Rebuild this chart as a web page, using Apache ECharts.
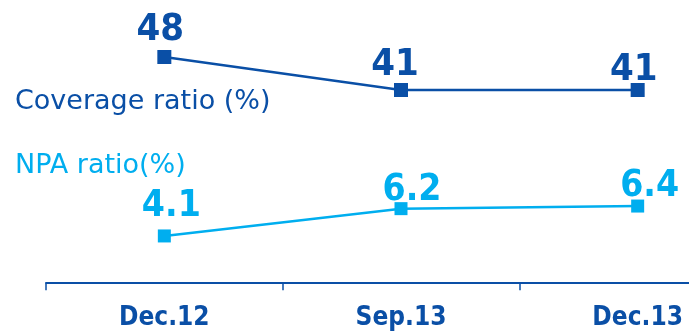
<!DOCTYPE html>
<html>
<head>
<meta charset="utf-8">
<script src="https://cdn.jsdelivr.net/npm/echarts@6/dist/echarts.min.js"></script>
<style>
html,body{margin:0;padding:0;background:#fff;}
#c{width:689px;height:333px;}
</style>
</head>
<body>
<div id="c"></div>
<script>
var categories = ['Dec.12', 'Sep.13', 'Dec.13'];
var coverageRatio = [48, 41, 41];
var npaRatio = [4.1, 6.2, 6.4];
var seriesNames = ['Coverage ratio (%)', 'NPA ratio(%)'];

var DARK = '#0a4fa6';
var LIGHT = '#00aeef';
var BOLD = '"DejaVu Sans Condensed", "DejaVu Sans"';

// label nudges (styling only)
var coverageLabelShift = [[-4, 1], [-6, 3], [-4, 8]];
var npaLabelShift = [[7, -3], [11, 9], [12, 7]];

function withShift(values, shifts) {
  return values.map(function (v, i) {
    return {value: v, label: {offset: shifts[i]}};
  });
}

var chart = echarts.init(document.getElementById('c'), null, {renderer: 'canvas'});
chart.setOption({
  animation: false,
  backgroundColor: '#fff',
  grid: {left: 46, top: 0, right: -67, bottom: 47, containLabel: false, outerBoundsMode: 'none'},
  xAxis: {
    type: 'category',
    data: categories,
    boundaryGap: true,
    axisLine: {lineStyle: {color: DARK, width: 2}},
    axisTick: {show: true, length: 7, lineStyle: {color: DARK, width: 1.5}},
    axisLabel: {color: DARK, fontFamily: BOLD, fontWeight: 'bold', fontSize: 26, margin: 19}
  },
  yAxis: [
    {type: 'value', min: -0.6, max: 60.1, show: false, splitLine: {show: false}},
    {type: 'value', min: 0.25, max: 22.25, show: false, splitLine: {show: false}}
  ],
  series: [
    {
      name: seriesNames[0], type: 'line', yAxisIndex: 0,
      data: withShift(coverageRatio, coverageLabelShift),
      symbol: 'rect', symbolSize: 14,
      lineStyle: {color: DARK, width: 2.5}, itemStyle: {color: DARK},
      label: {show: true, position: 'top', distance: 2, color: DARK,
        fontFamily: BOLD, fontWeight: 'bold', fontSize: 38}
    },
    {
      name: seriesNames[1], type: 'line', yAxisIndex: 1,
      data: withShift(npaRatio, npaLabelShift),
      symbol: 'rect', symbolSize: 13,
      lineStyle: {color: LIGHT, width: 2.5}, itemStyle: {color: LIGHT},
      label: {show: true, position: 'top', distance: 2, color: LIGHT,
        fontFamily: BOLD, fontWeight: 'bold', fontSize: 37}
    }
  ],
  graphic: [
    {type: 'text', left: 15, top: 88, style: {text: seriesNames[0], fill: DARK,
      font: '27px "DejaVu Sans"'}},
    {type: 'text', left: 15, top: 152, style: {text: seriesNames[1], fill: LIGHT,
      font: '27px "DejaVu Sans"'}}
  ]
});
</script>
</body>
</html>
